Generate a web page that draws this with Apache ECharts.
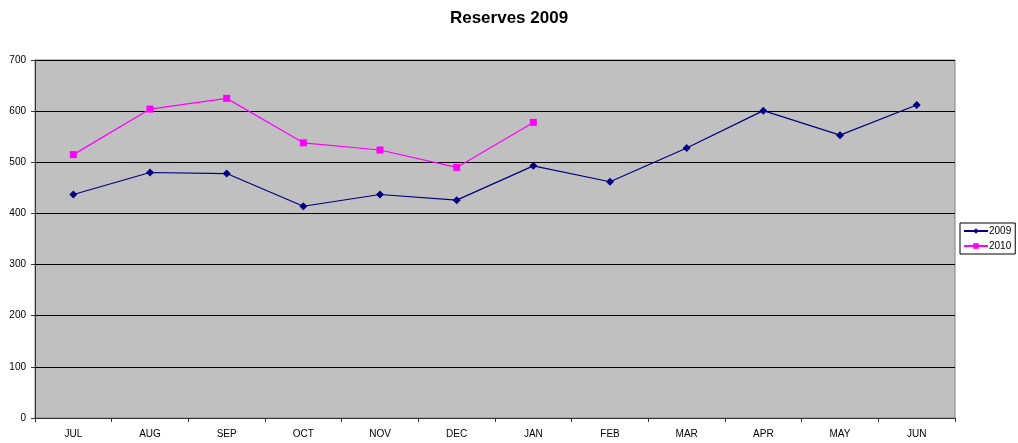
<!DOCTYPE html>
<html><head><meta charset="utf-8">
<script src="https://cdn.jsdelivr.net/npm/echarts@6/dist/echarts.min.js"></script>
<style>html,body{margin:0;padding:0;background:#fff}#c{width:1018px;height:443px}</style>
</head><body><div id="c"></div>
<script>
const categories = ['JUL','AUG','SEP','OCT','NOV','DEC','JAN','FEB','MAR','APR','MAY','JUN'];
const series2009 = [437, 480, 478, 414, 437, 426, 493, 462, 528, 601, 553, 612];
const series2010 = [515, 604, 625, 538, 524, 490, 578];
const yTicks = [0, 100, 200, 300, 400, 500, 600, 700];

const chart = echarts.init(document.getElementById('c'), null, {renderer: 'canvas'});
chart.setOption({
  animation: false,
  backgroundColor: '#fff',
  title: {
    text: 'Reserves 2009', left: 'center', top: 5,
    textStyle: {fontFamily: 'Liberation Sans, Arial', fontSize: 17, fontWeight: 'bold', color: '#000'}
  },
  grid: {
    left: 35, right: 63, top: 60, bottom: 25, containLabel: false,
    show: true, backgroundColor: '#C0C0C0', borderColor: '#808080', borderWidth: 1
  },
  legend: {
    orient: 'vertical', left: 960, top: 223,
    data: ['2009', '2010'],
    borderColor: '#000', borderWidth: 1, padding: [3, 4, 3, 3],
    itemWidth: 24, itemHeight: 7, itemGap: 5,
    textStyle: {fontFamily: 'Liberation Sans, Arial', fontSize: 10, color: '#000', padding: [0, 0, 0, -4]}
  },
  xAxis: {
    type: 'category', data: categories, boundaryGap: true,
    axisLine: {lineStyle: {color: '#333', width: 1}},
    axisTick: {show: true, inside: false, length: 4, lineStyle: {color: '#333'}},
    axisLabel: {fontFamily: 'Liberation Sans, Arial', fontSize: 10, color: '#000', margin: 11},
    splitLine: {show: false}
  },
  yAxis: {
    type: 'value', min: yTicks[0], max: yTicks[yTicks.length - 1], interval: 100,
    axisLine: {show: true, lineStyle: {color: '#333', width: 1}},
    axisTick: {show: true, inside: false, length: 4, lineStyle: {color: '#333'}},
    axisLabel: {fontFamily: 'Liberation Sans, Arial', fontSize: 10, color: '#000', margin: 9},
    splitLine: {show: true, lineStyle: {color: '#000', width: 1}}
  },
  series: [
    {
      name: '2009', type: 'line', data: series2009,
      symbol: 'diamond', symbolSize: 8,
      lineStyle: {color: '#000080', width: 1.2},
      itemStyle: {color: '#000080'}
    },
    {
      name: '2010', type: 'line', data: series2010,
      symbol: 'rect', symbolSize: 7,
      lineStyle: {color: '#FF00FF', width: 1.2},
      itemStyle: {color: '#FF00FF'}
    }
  ]
});
</script></body></html>
